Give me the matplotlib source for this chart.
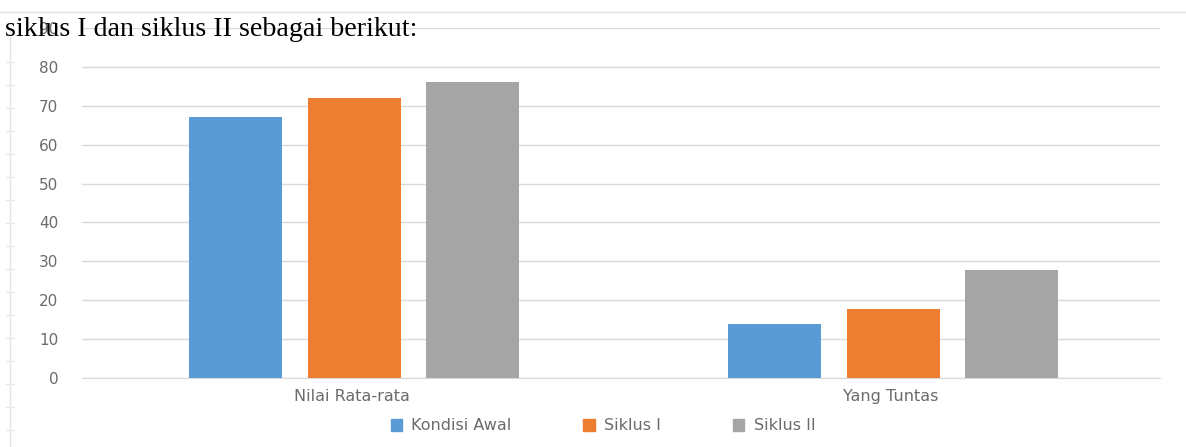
import matplotlib
matplotlib.use("Agg")
import matplotlib.pyplot as plt
import numpy as np
from matplotlib.lines import Line2D

categories = ["Nilai Rata-rata", "Yang Tuntas"]
series_names = ["Kondisi Awal", "Siklus I", "Siklus II"]
kondisi_awal = [67, 14]
siklus_1 = [72, 17.7]
siklus_2 = [76, 27.8]
y_ticks = [0, 10, 20, 30, 40, 50, 60, 70, 80, 90]

colors = ["#5B9BD5", "#ED7D31", "#A5A5A5"]
W, H = 1186, 447
fig = plt.figure(figsize=(W / 100, H / 100), dpi=100)
fig.patch.set_facecolor("white")

ax = fig.add_axes([82 / W, (H - 378) / H, (1160 - 82) / W, (378 - 28) / H])
x = np.arange(len(categories))
width = 0.173
offsets = [-0.22, 0.0, 0.22]
for vals, off, col, name in zip([kondisi_awal, siklus_1, siklus_2], offsets, colors, series_names):
    ax.bar(x + off + 0.005, vals, width=width, color=col, label=name, zorder=3)

ax.set_xlim(-0.5, 1.5)
ax.set_ylim(0, 90)
ax.set_yticks(y_ticks)
ax.set_yticklabels([str(t) for t in y_ticks])
ax.yaxis.grid(True, color="#D9D9D9", linewidth=1, zorder=0)
ax.set_xticks(x)
ax.set_xticklabels(categories)
for s in ["top", "right", "left"]:
    ax.spines[s].set_visible(False)
ax.spines["bottom"].set_color("#D9D9D9")
ax.tick_params(axis="both", length=0, colors="#6B6B6B")
ax.tick_params(axis="y", pad=17, labelsize=11)
ax.tick_params(axis="x", pad=8, labelsize=11.5)

handles = [plt.Rectangle((0, 0), 1, 1, color=c) for c in colors]
fig.legend(handles, series_names, loc="center", bbox_to_anchor=(603 / W, (H - 426) / H),
           ncol=3, frameon=False, handlelength=0.7, handleheight=0.7,
           handletextpad=0.6, columnspacing=4.5, fontsize=11.5, labelcolor="#6B6B6B")

# document/frame decorations
fig.add_artist(Line2D([0, 1], [(H - 12) / H, (H - 12) / H], color="#E3E3E3", lw=1, transform=fig.transFigure))
fig.add_artist(Line2D([10 / W, 10 / W], [0, (H - 30) / H], color="#E3E3E3", lw=1, transform=fig.transFigure))
for yy in range(62, 447, 23):
    fig.add_artist(Line2D([6 / W, 14 / W], [(H - yy) / H, (H - yy) / H], color="#E8E8E8", lw=1, transform=fig.transFigure))

fig.text(5 / W, (H - 36) / H, "siklus I dan siklus II sebagai berikut:", fontfamily="Liberation Serif",
         fontsize=20.2, color="black", ha="left", va="baseline")

fig.savefig("out.png", dpi=100, facecolor="white")
